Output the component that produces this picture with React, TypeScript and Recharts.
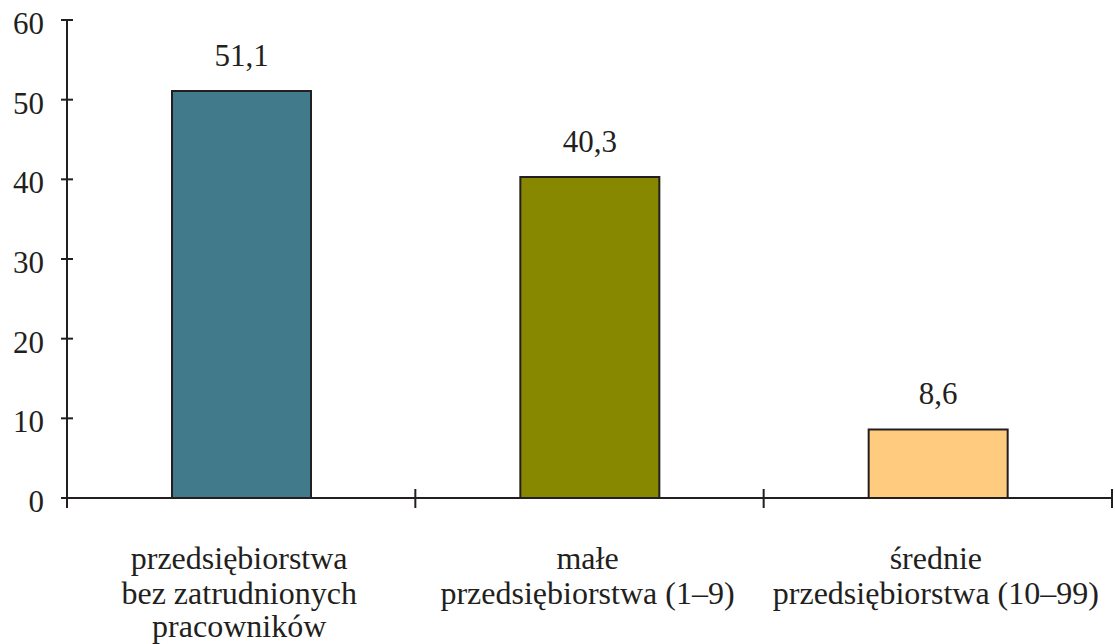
import { BarChart, Bar, XAxis, YAxis, Cell, LabelList } from 'recharts'

const categories = [
  ['przedsiębiorstwa', 'bez zatrudnionych', 'pracowników'],
  ['małe', 'przedsiębiorstwa (1–9)'],
  ['średnie', 'przedsiębiorstwa (10–99)'],
]
const shares = [51.1, 40.3, 8.6]
const barColors = ['#417B8B', '#878700', '#FFCC7F']
const yTicks = [0, 10, 20, 30, 40, 50, 60]

const INK = '#231F20'
const FONT = "'Liberation Serif', 'Times New Roman', serif"

const W = 1115
const H = 644
const PLOT_LEFT = 67
const PLOT_RIGHT = 1112
const PLOT_TOP = 20
const AXIS_Y = 498
const LINE_OFFSETS = [71, 106, 139]

const data = categories.map((lines, i) => ({ name: lines.join(' '), value: shares[i] }))

const fmt = (v: number) => v.toFixed(1).replace('.', ',')

function XTick({ x, index }: { x?: number; y?: number; index?: number }) {
  const lines = categories[index ?? 0]
  return (
    <g>
      {lines.map((line, i) => (
        <text
          key={i}
          x={(x ?? 0) - 2}
          y={AXIS_Y + LINE_OFFSETS[i]}
          textAnchor="middle"
          fill={INK}
          style={{ fontFamily: FONT, fontSize: 32 }}
        >
          {line}
        </text>
      ))}
    </g>
  )
}

function YTick({ y, payload }: { x?: number; y?: number; payload?: { value: number } }) {
  return (
    <g>
      <line x1={61} x2={73} y1={y} y2={y} stroke={INK} strokeWidth={2} />
      <text
        x={44}
        y={(y ?? 0) + 14}
        textAnchor="end"
        fill={INK}
        style={{ fontFamily: FONT, fontSize: 31 }}
      >
        {payload?.value}
      </text>
    </g>
  )
}

export default function App() {
  const step = (PLOT_RIGHT - PLOT_LEFT) / categories.length
  return (
    <div style={{ position: 'absolute', left: 0, top: 0, width: W, height: H, background: '#fff' }}>
      <style>{'body{margin:0}'}</style>
      <BarChart
        width={W}
        height={H}
        data={data}
        margin={{ top: PLOT_TOP, right: W - PLOT_RIGHT, bottom: 0, left: 0 }}
        barSize={139}
      >
        <XAxis
          dataKey="name"
          axisLine={{ stroke: INK, strokeWidth: 2 }}
          tickLine={false}
          tick={<XTick />}
          interval={0}
          height={H - AXIS_Y}
        />
        <YAxis
          domain={[0, 60]}
          ticks={yTicks}
          width={PLOT_LEFT}
          axisLine={{ stroke: INK, strokeWidth: 2 }}
          tickLine={false}
          tick={<YTick />}
          interval={0}
        />
        <Bar dataKey="value" stroke={INK} strokeWidth={2} isAnimationActive={false}>
          {data.map((d, i) => (
            <Cell key={d.name} fill={barColors[i]} />
          ))}
          <LabelList
            dataKey="value"
            position="top"
            offset={25}
            formatter={(v: any) => fmt(Number(v))}
            fill={INK}
            style={{ fontFamily: FONT, fontSize: 31 }}
          />
        </Bar>
      </BarChart>
      {/* category boundary ticks crossing the x axis */}
      <svg width={W} height={H} style={{ position: 'absolute', left: 0, top: 0, pointerEvents: 'none' }}>
        {[0, 1, 2, 3].map((k) => (
          <line
            key={k}
            x1={PLOT_LEFT + k * step}
            x2={PLOT_LEFT + k * step}
            y1={k === 0 ? AXIS_Y : AXIS_Y - 9}
            y2={AXIS_Y + 10}
            stroke={INK}
            strokeWidth={2}
          />
        ))}
      </svg>
    </div>
  )
}
